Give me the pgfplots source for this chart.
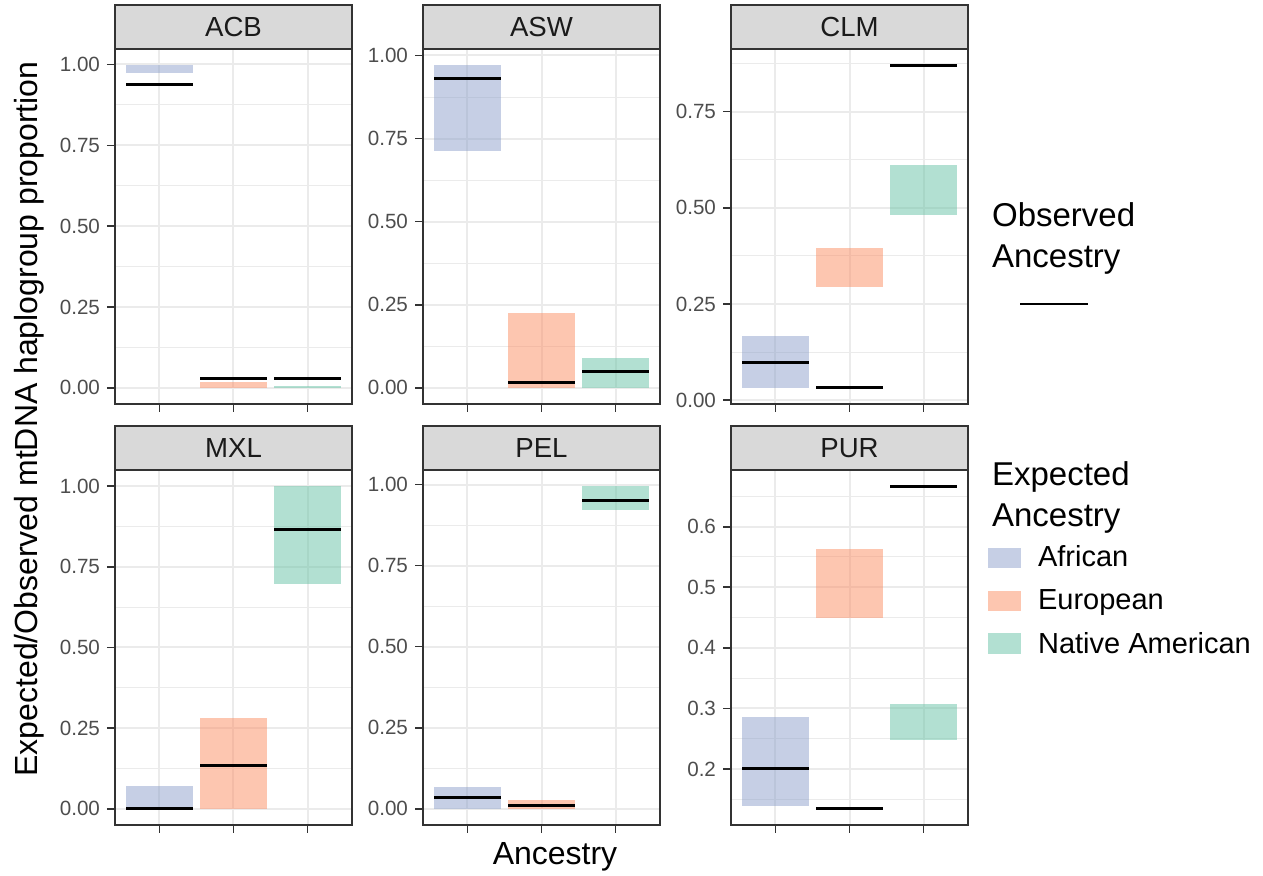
\documentclass[border=0pt]{standalone}
\usepackage{fontspec}
\setmainfont{Liberation Sans}
\usepackage{pgfplots}
\pgfplotsset{compat=1.18}

\definecolor{grey10}{HTML}{1A1A1A}
\definecolor{grey20}{HTML}{333333}
\definecolor{grey30}{HTML}{4D4D4D}
\definecolor{grey85}{HTML}{D9D9D9}
\definecolor{grey92}{HTML}{EBEBEB}
\definecolor{afr}{HTML}{8DA0CB}
\definecolor{eur}{HTML}{FC8D62}
\definecolor{nat}{HTML}{66C2A5}

\pgfplotsset{
  facet/.style={
    scale only axis, width=118.5pt, height=177.5pt, anchor=south west,
    xmin=0.4, xmax=3.6, xtick={1,2,3}, xticklabels={,,},
    tick align=outside, major tick length=4pt, minor tick length=0pt,
    tick pos=left,
    grid=both,
    major grid style={grey92, line width=1pt},
    minor grid style={grey92, line width=0.5pt},
    axis line style={grey20, line width=0.8pt},
    major tick style={grey20, line width=0.8pt},
    /pgf/number format/assume math mode=true,
    yticklabel style={font=\fontsize{10.3}{12}\selectfont, text=grey30,
      /pgf/number format/.cd, fixed, fixed zerofill, precision=2},
    clip=true,
  },
  afrbox/.style={draw=none, fill=afr, fill opacity=0.5, mark=none, forget plot},
  eurbox/.style={draw=none, fill=eur, fill opacity=0.5, mark=none, forget plot},
  natbox/.style={draw=none, fill=nat, fill opacity=0.5, mark=none, forget plot},
  obs/.style={only marks, mark=-, mark size=16.66pt,
    mark options={draw=black, line width=1.5pt}, forget plot},
  prop/.style={ytick={0,0.25,0.5,0.75,1}, minor ytick={0.125,0.375,0.625,0.875}},
}

\newcommand{\strip}[3]{%
  \draw[grey20, line width=0.8pt, fill=grey85] (#1,#2) rectangle ++(118.5pt,22pt);
  \node[text=grey10, font=\fontsize{13.8}{16}\selectfont] at ([xshift=59.25pt,yshift=11pt]#1,#2) {#3};
}

\begin{document}
\begin{tikzpicture}
\useasboundingbox (0,0) rectangle (631.5pt,438pt);

% ---- ACB ----
\begin{axis}[facet, prop, at={(57.5pt,236pt)}, ymin=-0.0499, ymax=1.0479]
  \addplot[afrbox] coordinates {(0.55,0.975) (1.45,0.975) (1.45,0.998) (0.55,0.998)} -- cycle;
  \addplot[eurbox] coordinates {(1.55,0.000) (2.45,0.000) (2.45,0.019) (1.55,0.019)} -- cycle;
  \addplot[natbox] coordinates {(2.55,0.000) (3.45,0.000) (3.45,0.007) (2.55,0.007)} -- cycle;
  \addplot[obs] coordinates {(1,0.938) (2,0.030) (3,0.030)};
\end{axis}

% ---- ASW ----
\begin{axis}[facet, prop, at={(211.5pt,236pt)}, ymin=-0.0486, ymax=1.0196]
  \addplot[afrbox] coordinates {(0.55,0.714) (1.45,0.714) (1.45,0.971) (0.55,0.971)} -- cycle;
  \addplot[eurbox] coordinates {(1.55,0.000) (2.45,0.000) (2.45,0.226) (1.55,0.226)} -- cycle;
  \addplot[natbox] coordinates {(2.55,0.000) (3.45,0.000) (3.45,0.091) (2.55,0.091)} -- cycle;
  \addplot[obs] coordinates {(1,0.931) (2,0.015) (3,0.049)};
\end{axis}

% ---- CLM ----
\begin{axis}[facet, at={(365.5pt,236pt)}, ymin=-0.010, ymax=0.913,
  ytick={0,0.25,0.5,0.75}, minor ytick={0.125,0.375,0.625,0.875}]
  \addplot[afrbox] coordinates {(0.55,0.032) (1.45,0.032) (1.45,0.167) (0.55,0.167)} -- cycle;
  \addplot[eurbox] coordinates {(1.55,0.295) (2.45,0.295) (2.45,0.396) (1.55,0.396)} -- cycle;
  \addplot[natbox] coordinates {(2.55,0.482) (3.45,0.482) (3.45,0.612) (2.55,0.612)} -- cycle;
  \addplot[obs] coordinates {(1,0.097) (2,0.032) (3,0.871)};
\end{axis}

% ---- MXL ----
\begin{axis}[facet, prop, at={(57.5pt,25.5pt)}, ymin=-0.05, ymax=1.05]
  \addplot[afrbox] coordinates {(0.55,0.000) (1.45,0.000) (1.45,0.070) (0.55,0.070)} -- cycle;
  \addplot[eurbox] coordinates {(1.55,0.000) (2.45,0.000) (2.45,0.281) (1.55,0.281)} -- cycle;
  \addplot[natbox] coordinates {(2.55,0.697) (3.45,0.697) (3.45,1.000) (2.55,1.000)} -- cycle;
  \addplot[obs] coordinates {(1,0.000) (2,0.134) (3,0.866)};
\end{axis}

% ---- PEL ----
\begin{axis}[facet, prop, at={(211.5pt,25.5pt)}, ymin=-0.0498, ymax=1.0448]
  \addplot[afrbox] coordinates {(0.55,0.000) (1.45,0.000) (1.45,0.068) (0.55,0.068)} -- cycle;
  \addplot[eurbox] coordinates {(1.55,0.000) (2.45,0.000) (2.45,0.026) (1.55,0.026)} -- cycle;
  \addplot[natbox] coordinates {(2.55,0.920) (3.45,0.920) (3.45,0.995) (2.55,0.995)} -- cycle;
  \addplot[obs] coordinates {(1,0.034) (2,0.010) (3,0.952)};
\end{axis}

% ---- PUR ----
\begin{axis}[facet, at={(365.5pt,25.5pt)}, ymin=0.1074, ymax=0.6937,
  ytick={0.2,0.3,0.4,0.5,0.6}, minor ytick={0.15,0.25,0.35,0.45,0.55,0.65},
  yticklabel style={/pgf/number format/precision=1}]
  \addplot[afrbox] coordinates {(0.55,0.139) (1.45,0.139) (1.45,0.286) (0.55,0.286)} -- cycle;
  \addplot[eurbox] coordinates {(1.55,0.449) (2.45,0.449) (2.45,0.564) (1.55,0.564)} -- cycle;
  \addplot[natbox] coordinates {(2.55,0.248) (3.45,0.248) (3.45,0.307) (2.55,0.307)} -- cycle;
  \addplot[obs] coordinates {(1,0.200) (2,0.134) (3,0.667)};
\end{axis}

% facet strips
\strip{57.5pt}{413.5pt}{ACB}
\strip{211.5pt}{413.5pt}{ASW}
\strip{365.5pt}{413.5pt}{CLM}
\strip{57.5pt}{203pt}{MXL}
\strip{211.5pt}{203pt}{PEL}
\strip{365.5pt}{203pt}{PUR}

% axis titles
\node[anchor=base, font=\fontsize{16}{19}\selectfont] at (277.5pt,5.5pt) {Ancestry};
\node[anchor=base, rotate=90, font=\fontsize{16}{19}\selectfont] at (18.5pt,228.5pt)
  {Expected/Observed mtDNA haplogroup proportion};

% legend: observed
\node[anchor=base west, font=\fontsize{16.5}{19}\selectfont] at (492.5pt,324.5pt) {Observed};
\node[anchor=base west, font=\fontsize{16.5}{19}\selectfont] at (492.5pt,304pt) {Ancestry};
\draw[black, line width=1.1pt] (510pt,286pt) -- (544pt,286pt);

% legend: expected
\node[anchor=base west, font=\fontsize{16.5}{19}\selectfont] at (492.5pt,195pt) {Expected};
\node[anchor=base west, font=\fontsize{16.5}{19}\selectfont] at (492.5pt,174.5pt) {Ancestry};
\fill[afr, fill opacity=0.5] (494pt,154pt) rectangle (510.5pt,164pt);
\fill[eur, fill opacity=0.5] (494pt,132.5pt) rectangle (510.5pt,142.5pt);
\fill[nat, fill opacity=0.5] (494pt,111pt) rectangle (510.5pt,121.5pt);
\node[anchor=base west, font=\fontsize{14.5}{17}\selectfont] at (515.5pt,154.7pt) {African};
\node[anchor=base west, font=\fontsize{14.5}{17}\selectfont] at (515.5pt,133pt) {European};
\node[anchor=base west, font=\fontsize{14.5}{17}\selectfont] at (515.5pt,111.3pt) {Native American};
\end{tikzpicture}
\end{document}
